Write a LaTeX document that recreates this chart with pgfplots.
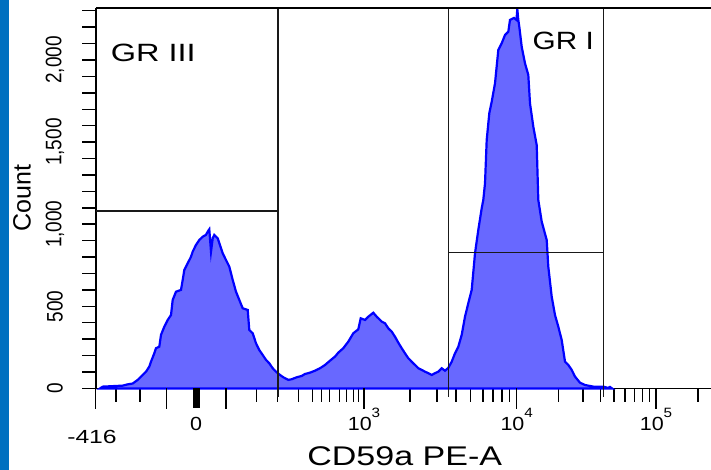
\documentclass[border=0pt]{standalone}
\usepackage{fontspec}
\setmainfont{Liberation Sans}
\usepackage{pgfplots}
\pgfplotsset{compat=1.18}
\definecolor{band}{RGB}{0,112,192}
\definecolor{histfill}{RGB}{104,104,255}
\definecolor{histline}{RGB}{0,0,255}
\definecolor{gate}{RGB}{25,25,25}
\newcommand{\tl}{\fontsize{19}{19}\selectfont}
\newcommand{\dec}[1]{\scalebox{1.13}[1]{10\raisebox{13pt}{\fontsize{13.5}{13.5}\selectfont #1}}}
\newcommand{\ylab}[1]{\scalebox{1}[1.18]{#1}}
\begin{document}
\begin{tikzpicture}
\begin{axis}[
  width=615pt, height=380.5pt, scale only axis,
  xmin=96, xmax=711, ymin=0, ymax=2317,
  clip=false,
  axis lines=left,
  axis line style={-, line width=1.7pt, black},
  tick align=outside,
  tick style={black, line width=1.5pt},
  major tick length=13.5pt, minor tick length=13.5pt,
  xtick={95.5,166.7,196.5,226,364,516.7,656},
  xticklabels=\empty,
  minor xtick={116,140,256.7,277.7,298.3,312.7,321.7,329.3,339.3,346.7,353.3,358.3,410,436.8,455.9,470.7,482.8,493,501.8,509.6,558.6,583.2,600.6,614,625.1,634.4,642.5,649.6,697.9},
  ytick={0,500,1000,1500,2000},
  yticklabels=\empty,
  minor ytick={0,100,...,2300},
]
% blue band at the left edge
\fill[band] (axis cs:0,-496.2) rectangle (axis cs:9.5,2365.3);
% histogram
\addplot[fill=histfill, draw=histline, line width=2.2pt, line join=miter] table {
x y
100 0
102.7 11
122.7 17
127 24
132.7 30
137.7 52
142.7 82
146 102
149.3 133
151 163
154.3 214
156 245
159.3 254
161 326
164.3 376
167.7 417
171 447
172.7 539
176 589
181 600
182.7 661
184.3 721
187.7 762
191 802
192.7 833
196 874
199.3 904
202.7 924
206 935
207.7 955
209.3 969
211 833
212.7 914
214.3 935
217.7 914
221 854
222.7 823
226 782
229.3 742
232.7 661
236 589
239.3 539
242.7 488
247.7 478
249.3 356
252.7 336
256 275
259.3 234
262.7 204
266 174
269.3 153
272.7 123
276 102
280 82
283.3 68
288.3 52
291.7 56
296.7 68
301.7 76
305 88
310 96
315 108
320 123
325 143
330 169
335 194
338.3 218
343.3 245
348.3 285
353.3 336
358.3 360
360.7 427
365 417
368.3 437
373.3 461
376.7 437
381.7 407
385 397
388.3 366
391.7 346
395 315
398.3 279
401.7 245
405 214
408.3 184
411.7 163
415 143
418.3 123
421.7 113
425 102
428.3 93
431.7 82
435 93
438.3 102
441.7 123
445 108
448.3 125
451.7 163
455 214
458.3 254
461.7 326
465 437
468.3 519
471.7 600
475 823
478.3 965
481.7 1097
483.3 1148
485 1249
486.7 1513
489.3 1676
491.7 1746
495 1858
498.3 2061
501.7 2102
505 2152
508.3 2172
510 2244
514 2256
516.5 2244
517.3 2311
518.3 2244
519.3 2203
521.7 2081
525 1980
528.3 1909
530 1736
533.3 1594
536.7 1482
538.3 1148
541.7 1016
546.7 904
548.3 742
551.7 559
555 447
558.3 376
561.7 295
565 163
568.3 143
571.7 113
575 72
580 35
585 21
593.3 11
603.3 11
608 3
610 9
612 0
} \closedcycle;
% gates
\addplot[gate, line width=1.6pt, forget plot] coordinates {(277.7,-50) (277.7,2317)};
\addplot[gate, line width=1.6pt, forget plot] coordinates {(448.3,-50) (448.3,2317)};
\addplot[gate, line width=1.6pt, forget plot] coordinates {(603.3,-50) (603.3,2317)};
\addplot[gate, line width=1.6pt, forget plot] coordinates {(96,1082) (277.7,1082)};
\addplot[gate, line width=1.6pt, forget plot] coordinates {(448.3,827) (603.3,827)};
% top frame line
\draw[black, line width=1.7pt] (axis cs:96,2317) -- (axis cs:711,2317);
% long x ticks and thick zero tick
\draw[black, line width=1.5pt] (axis cs:95.5,0) -- (axis cs:95.5,-125);
\draw[black, line width=1.5pt] (axis cs:166.7,0) -- (axis cs:166.7,-125);
\draw[black, line width=1.5pt] (axis cs:226,0) -- (axis cs:226,-125);
\draw[black, line width=1.5pt] (axis cs:364,0) -- (axis cs:364,-125);
\draw[black, line width=1.5pt] (axis cs:516.7,0) -- (axis cs:516.7,-125);
\draw[black, line width=1.5pt] (axis cs:656,0) -- (axis cs:656,-125);
\fill[black] (axis cs:193.3,0) rectangle (axis cs:199.7,-120);
% x tick labels
\node[anchor=base, font=\tl] at (axis cs:196,-256) {\scalebox{1.13}[1]{0}};
\node[anchor=base, font=\tl] at (axis cs:92,-338) {\scalebox{1.3}[1]{-416}};
\node[anchor=base, font=\tl] at (axis cs:364,-256) {\dec{3}};
\node[anchor=base, font=\tl] at (axis cs:516.7,-256) {\dec{4}};
\node[anchor=base, font=\tl] at (axis cs:656,-256) {\dec{5}};
% y tick labels
\node[rotate=90, font=\tl] at (axis cs:55,0) {\ylab{0}};
\node[rotate=90, font=\tl] at (axis cs:55,500) {\ylab{500}};
\node[rotate=90, font=\tl] at (axis cs:55,1000) {\ylab{1,000}};
\node[rotate=90, font=\tl] at (axis cs:55,1500) {\ylab{1,500}};
\node[rotate=90, font=\tl] at (axis cs:55,2000) {\ylab{2,000}};
% texts
\node[font=\fontsize{25}{25}\selectfont] at (axis cs:153.3,2046) {\scalebox{1.3}[1]{GR III}};
\node[font=\fontsize{25}{25}\selectfont] at (axis cs:563.3,2119) {\scalebox{1.19}[1]{GR I}};
\node[font=\fontsize{27}{27}\selectfont, inner sep=0pt] at (axis cs:404.7,-410) {\scalebox{1.26}[1]{CD59a PE-A}};
\node[font=\fontsize{25}{25}\selectfont, rotate=90] at (axis cs:22,1160) {Count};
\coordinate (bl) at (axis cs:0,-496.2);
\coordinate (tr) at (axis cs:711,2365.3);
\end{axis}
\pgfresetboundingbox
\path[use as bounding box] (bl) rectangle (tr);
\end{tikzpicture}
\end{document}
